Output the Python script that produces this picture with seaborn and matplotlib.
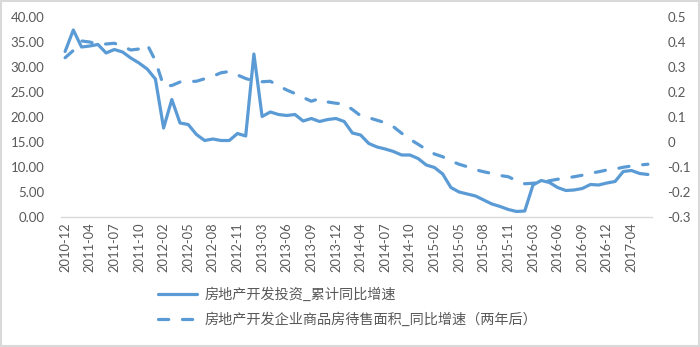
import matplotlib
matplotlib.use("Agg")
import matplotlib.pyplot as plt
import seaborn as sns
import pandas as pd
from matplotlib.patches import Rectangle

# ---------------- data ----------------
categories = [
    "2010-12",
    "2011-02", "2011-03", "2011-04", "2011-05", "2011-06", "2011-07", "2011-08", "2011-09", "2011-10", "2011-11", "2011-12",
    "2012-02", "2012-03", "2012-04", "2012-05", "2012-06", "2012-07", "2012-08", "2012-09", "2012-10", "2012-11", "2012-12",
    "2013-02", "2013-03", "2013-04", "2013-05", "2013-06", "2013-07", "2013-08", "2013-09", "2013-10", "2013-11", "2013-12",
    "2014-02", "2014-03", "2014-04", "2014-05", "2014-06", "2014-07", "2014-08", "2014-09", "2014-10", "2014-11", "2014-12",
    "2015-02", "2015-03", "2015-04", "2015-05", "2015-06", "2015-07", "2015-08", "2015-09", "2015-10", "2015-11", "2015-12",
    "2016-02", "2016-03", "2016-04", "2016-05", "2016-06", "2016-07", "2016-08", "2016-09", "2016-10", "2016-11", "2016-12",
    "2017-02", "2017-03", "2017-04", "2017-05", "2017-06",
]

# 房地产开发投资_累计同比增速 (left axis)
invest_growth = [
    33.1,
    37.4, 34.0, 34.2, 34.5, 32.8, 33.5, 33.0, 31.8, 30.8, 29.6, 27.6,
    17.8, 23.5, 18.8, 18.5, 16.5, 15.3, 15.6, 15.3, 15.3, 16.7, 16.2,
    32.6, 20.1, 21.0, 20.5, 20.3, 20.5, 19.2, 19.7, 19.1, 19.5, 19.7,
    19.1, 16.8, 16.4, 14.7, 14.0, 13.6, 13.1, 12.4, 12.4, 11.7, 10.4,
    9.9, 8.6, 5.9, 5.0, 4.6, 4.2, 3.4, 2.6, 2.1, 1.5, 1.1,
    1.2, 6.4, 7.3, 6.9, 5.9, 5.3, 5.4, 5.7, 6.5, 6.4, 6.8,
    7.1, 9.1, 9.3, 8.7, 8.5,
]

# 房地产开发企业商品房待售面积_同比增速（两年后） (right axis)
unsold_area_growth = [
    0.337,
    0.366, 0.404, 0.400, 0.391, 0.392, 0.395, 0.383, 0.368, 0.372, 0.390, 0.325,
    0.224, 0.226, 0.240, 0.242, 0.243, 0.253, 0.263, 0.277, 0.282, 0.268, 0.254,
    0.244, 0.241, 0.243, 0.225, 0.208, 0.194, 0.178, 0.163, 0.174, 0.160, 0.155,
    0.152, 0.130, 0.105, 0.097, 0.087, 0.077, 0.061, 0.035, 0.011, -0.009, -0.030,
    -0.048, -0.059, -0.076, -0.089, -0.099, -0.111, -0.119, -0.126, -0.134, -0.139, -0.155,
    -0.167, -0.165, -0.159, -0.155, -0.149, -0.144, -0.139, -0.133, -0.125, -0.119, -0.112,
    -0.108, -0.101, -0.096, -0.092, -0.089,
]

x_tick_labels = [
    "2010-12", "2011-04", "2011-07", "2011-10", "2012-02", "2012-05", "2012-08", "2012-11",
    "2013-03", "2013-06", "2013-09", "2013-12", "2014-04", "2014-07", "2014-10", "2015-02",
    "2015-05", "2015-08", "2015-11", "2016-03", "2016-06", "2016-09", "2016-12", "2017-04",
]
left_ticks = [0, 5, 10, 15, 20, 25, 30, 35, 40]
left_tick_labels = ["0.00", "5.00", "10.00", "15.00", "20.00", "25.00", "30.00", "35.00", "40.00"]
right_ticks = [-0.3, -0.2, -0.1, 0.0, 0.1, 0.2, 0.3, 0.4, 0.5]
right_tick_labels = ["-0.3", "-0.2", "-0.1", "0", "0.1", "0.2", "0.3", "0.4", "0.5"]

series_names = ["房地产开发投资_累计同比增速", "房地产开发企业商品房待售面积_同比增速（两年后）"]

# ---------------- style ----------------
sns.set_theme(style="white")
plt.rcParams["font.family"] = ["Lato", "Noto Sans CJK SC", "DejaVu Sans"]

BLUE = "#5B9BD5"
TEXT = "#595959"
AXIS = "#D9D9D9"

df = pd.DataFrame({
    "month": categories,
    "pos": list(range(len(categories))),
    "invest": invest_growth,
    "area": unsold_area_growth,
})

W, H = 700, 347
fig = plt.figure(figsize=(W / 100, H / 100), dpi=100)
fig.patch.set_facecolor("white")
ax = fig.add_axes([61 / W, 1 - 217 / H, (652 - 61) / W, 200 / H])
ax2 = ax.twinx()

sns.lineplot(data=df, x="pos", y="invest", ax=ax, color=BLUE, linewidth=2.3,
             legend=False, solid_capstyle="round", solid_joinstyle="round")
sns.lineplot(data=df, x="pos", y="area", ax=ax2, color=BLUE, linewidth=2.3,
             legend=False)
l1 = ax.lines[0]
l2 = ax2.lines[0]
l2.set_dashes((3.2, 4.3))
l2.set_dash_capstyle("round")
l2.set_dash_joinstyle("round")

ax.set_xlim(-0.5, len(categories) - 0.5)
ax.set_ylim(0, 40)
ax2.set_ylim(-0.3, 0.5)

ax.set_xticks([categories.index(t) for t in x_tick_labels])
ax.set_xticklabels(x_tick_labels, rotation=90)
ax.set_yticks(left_ticks)
ax.set_yticklabels(left_tick_labels)
ax2.set_yticks(right_ticks)
ax2.set_yticklabels(right_tick_labels)

for a in (ax, ax2):
    a.set_xlabel("")
    a.set_ylabel("")
    a.grid(False)
    for s in a.spines.values():
        s.set_visible(False)
ax.spines["bottom"].set_visible(True)
ax.spines["bottom"].set_color(AXIS)
ax.spines["bottom"].set_linewidth(1.0)

ax.tick_params(axis="y", length=0, pad=12, labelcolor=TEXT, labelsize=9.5)
ax2.tick_params(axis="y", length=0, pad=11, labelcolor=TEXT, labelsize=9.5)
ax.tick_params(axis="x", length=0, pad=4, labelcolor=TEXT, labelsize=9.3)

leg = fig.legend(handles=[l1, l2], labels=series_names, loc="upper left",
                 bbox_to_anchor=(158 / W, 1 - 287 / H), frameon=False,
                 prop={"family": ["Noto Sans CJK SC", "DejaVu Sans"], "size": 10.2},
                 handlelength=2.75, handletextpad=0.55, labelspacing=0.75,
                 borderpad=0, borderaxespad=0)
for t in leg.get_texts():
    t.set_color(TEXT)

fig.patches.append(Rectangle((0.001, 0.003), 0.997, 0.995, transform=fig.transFigure,
                             fill=False, edgecolor=AXIS, linewidth=1.5))

fig.savefig("out.png", dpi=100, facecolor="white")
